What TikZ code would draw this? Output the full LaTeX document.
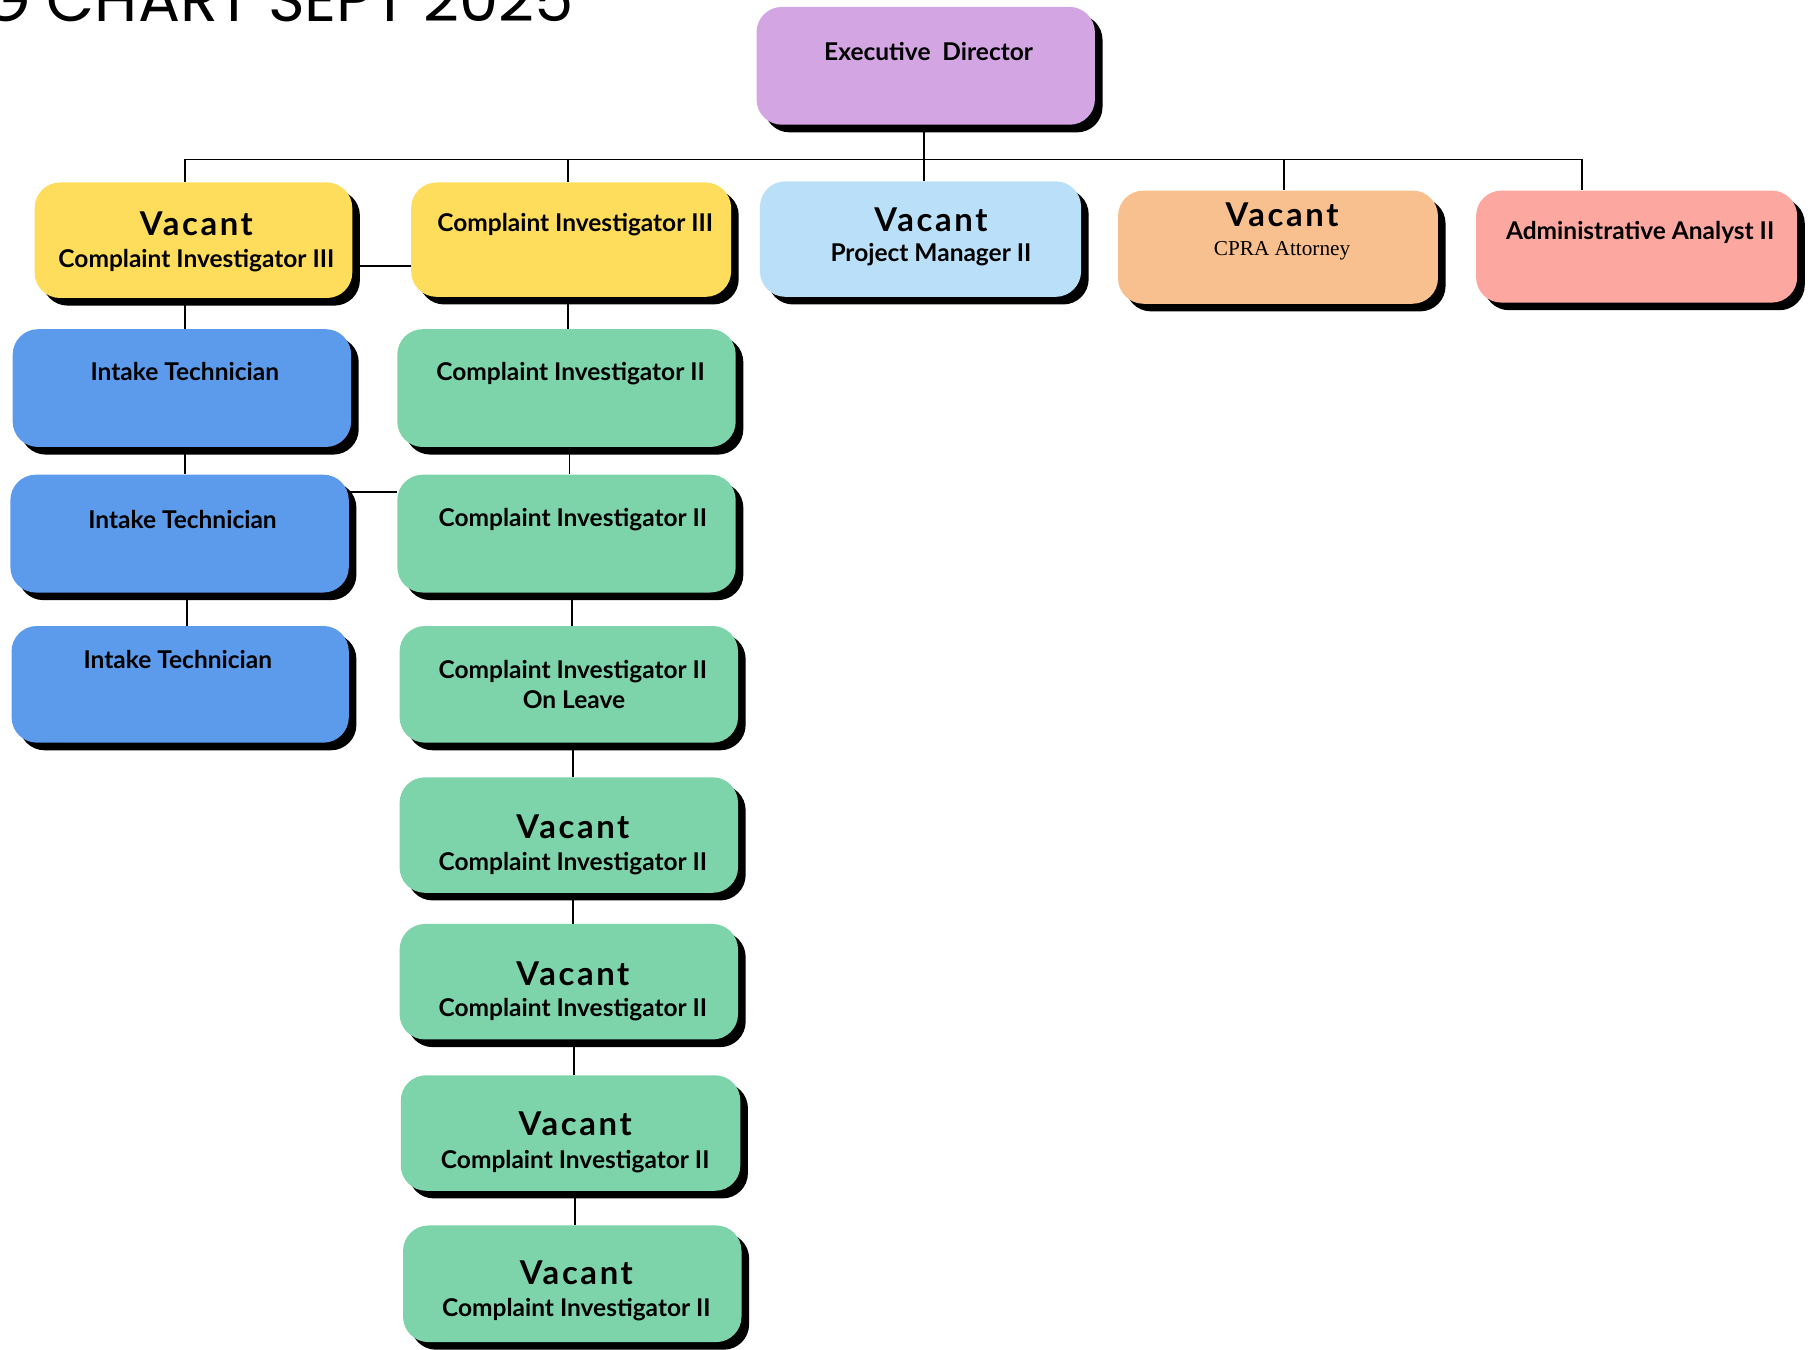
\documentclass[tikz,border=0pt]{standalone}
\usepackage{fontspec}
\setmainfont{Lato}
\newfontfamily\serifbox{Liberation Serif}
\newfontfamily\titlefont{Poppins}
\newfontfamily\vacfont[LetterSpace=8]{Lato}
\usetikzlibrary{shadows}
\pgfdeclarelayer{bg}
\pgfsetlayers{bg,main}
\definecolor{cexec}{RGB}{212,165,227}
\definecolor{cyel}{RGB}{255,221,92}
\definecolor{clblue}{RGB}{185,224,248}
\definecolor{corange}{RGB}{249,192,143}
\definecolor{csalmon}{RGB}{252,168,160}
\definecolor{cblue}{RGB}{92,155,235}
\definecolor{cgreen}{RGB}{125,211,170}
\tikzset{
  orgbox/.style={rounded corners=11pt, inner sep=0pt, draw=none,
    drop shadow={shadow xshift=3.3pt, shadow yshift=-3.3pt, fill=black, opacity=1}},
  role/.style={font=\bfseries\fontsize{10.6}{12}\selectfont, anchor=base, inner sep=0pt},
  vac/.style={font=\vacfont\bfseries\fontsize{14.2}{16}\selectfont, anchor=base, inner sep=0pt},
  sertext/.style={font=\serifbox\fontsize{9.2}{11}\selectfont, anchor=base, inner sep=0pt},
  conn/.style={draw=black, line width=0.75pt},
}
\newcommand\mkbox[6]{\node[orgbox, fill=#6, minimum width={(#4-#2)*0.5pt}, minimum height={(#5-#3)*0.5pt}] (#1) at ({(#2+#4)/2},{(#3+#5)/2}) {};}
\begin{document}
\begin{tikzpicture}[x=0.5pt,y=-0.5pt]
\useasboundingbox (0,0) rectangle (1568,1168);
\clip (0,0) rectangle (1568,1168);
\node[font=\titlefont\fontsize{27}{30}\selectfont, anchor=base east, inner sep=0pt] (title) at (497,19) {ORG CHART SEPT 2025};
% boxes
\mkbox{ed}{655}{6}{948}{108}{cexec}
\mkbox{vci3}{30}{158}{305}{258}{cyel}
\mkbox{ci3}{356}{158}{633}{257}{cyel}
\mkbox{vpm}{658}{157}{936}{257}{clblue}
\mkbox{cpra}{968}{165}{1245}{263}{corange}
\mkbox{admin}{1278}{165}{1556}{262}{csalmon}
\mkbox{it1}{11}{285}{304}{387}{cblue}
\mkbox{it2}{9}{411}{302}{513}{cblue}
\mkbox{it3}{10}{542}{302}{643}{cblue}
\mkbox{ci2a}{344}{285}{637}{387}{cgreen}
\mkbox{ci2b}{344}{411}{637}{513}{cgreen}
\mkbox{ci2c}{346}{542}{639}{643}{cgreen}
\mkbox{vci2a}{346}{673}{639}{773}{cgreen}
\mkbox{vci2b}{346}{800}{639}{900}{cgreen}
\mkbox{vci2c}{347}{931}{641}{1031}{cgreen}
\mkbox{vci2d}{349}{1061}{642}{1162}{cgreen}
% texts
\node[role] (ted) at (804,52.5) {Executive\ \ Director};
\node[vac] (tv1) at (170,204) {Vacant};
\node[role] (tr1) at (170,231.5) {Complaint Investigator III};
\node[role] (tr2) at (498,200.5) {Complaint Investigator III};
\node[vac] (tv3) at (806,200) {Vacant};
\node[role] (tr3) at (806,226.5) {Project Manager II};
\node[vac] (tv4) at (1110,196) {Vacant};
\node[sertext] (tr4) at (1110,221) {CPRA Attorney};
\node[role] (tr5) at (1420,207.5) {Administrative Analyst II};
\node[role] (ti1) at (160,329.5) {Intake Technician};
\node[role] (ti2) at (158,457.5) {Intake Technician};
\node[role] (ti3) at (154,578.5) {Intake Technician};
\node[role] (tc1) at (494,329.5) {Complaint Investigator II};
\node[role] (tc2) at (496,455.5) {Complaint Investigator II};
\node[role] (tc3) at (496,587.5) {Complaint Investigator II};
\node[role] (tc3b) at (497,613.5) {On Leave};
\node[vac] (tv5) at (496,726) {Vacant};
\node[role] (tc4) at (496,753.5) {Complaint Investigator II};
\node[vac] (tv6) at (496,853) {Vacant};
\node[role] (tc5) at (496,880.5) {Complaint Investigator II};
\node[vac] (tv7) at (498,983) {Vacant};
\node[role] (tc6) at (498,1011.5) {Complaint Investigator II};
\node[vac] (tv8) at (499,1112) {Vacant};
\node[role] (tc7) at (499,1139.5) {Complaint Investigator II};
% connectors
\begin{pgfonlayer}{bg}
\coordinate (xed) at (800,0);
\coordinate (busL) at (160,138);
\coordinate (busR) at (1370,138);
\coordinate (d2) at (492,138);
\coordinate (d4) at (1112,138);
\coordinate (h1) at (0,230);
\coordinate (h2) at (0,426);
\coordinate (xa) at (160,0);
\coordinate (xb) at (162,0);
\coordinate (g1) at (492,0);
\coordinate (g2) at (493,0);
\coordinate (g3) at (495,0);
\coordinate (g4) at (496,0);
\coordinate (g5) at (497,0);
\coordinate (g6) at (498,0);
\draw[conn] (ed.south -| xed) -- (vpm.north -| xed);
\draw[conn] (busL) -- (busR);
\draw[conn] (busL) -- (vci3.north -| busL);
\draw[conn] (d2) -- (ci3.north -| d2);
\draw[conn] (d4) -- (cpra.north -| d4);
\draw[conn] (busR) -- (admin.north -| busR);
\draw[conn] (vci3.east |- h1) -- (ci3.west |- h1);
\draw[conn] (vci3.south -| busL) -- (it1.north -| busL);
\draw[conn] (it1.south -| xa) -- (it2.north -| xa);
\draw[conn] (it2.south -| xb) -- (it3.north -| xb);
\draw[conn] (it2.east |- h2) -- (ci2b.west |- h2);
\draw[conn] (ci3.south -| g1) -- (ci2a.north -| g1);
\draw[conn] (ci2a.south -| g2) -- (ci2b.north -| g2);
\draw[conn] (ci2b.south -| g3) -- (ci2c.north -| g3);
\draw[conn] (ci2c.south -| g4) -- (vci2a.north -| g4);
\draw[conn] (vci2a.south -| g4) -- (vci2b.north -| g4);
\draw[conn] (vci2b.south -| g5) -- (vci2c.north -| g5);
\draw[conn] (vci2c.south -| g6) -- (vci2d.north -| g6);
\end{pgfonlayer}
\end{tikzpicture}
\end{document}
